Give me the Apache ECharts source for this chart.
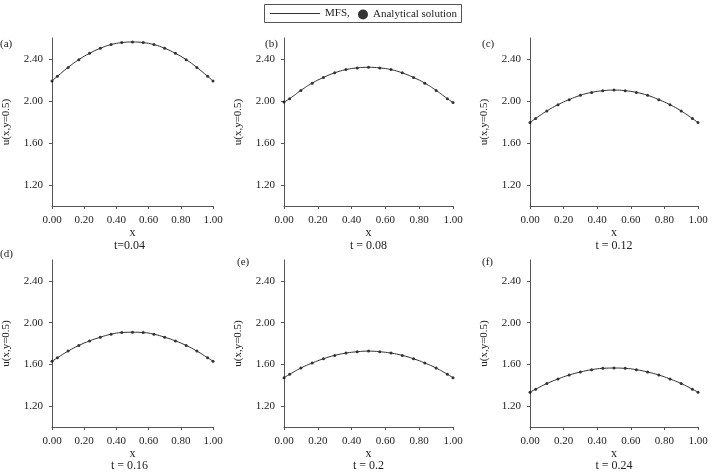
<!DOCTYPE html>
<html>
<head>
<meta charset="utf-8">
<script src="https://cdn.jsdelivr.net/npm/echarts@6/dist/echarts.min.js"></script>
<style>
  html, body { margin: 0; padding: 0; background: #fff; }
  #chart { width: 715px; height: 473px; }
</style>
</head>
<body>
<div id="chart"></div>
<script>
// x 坐标（节点）
const xs = [0, 0.0333, 0.1, 0.1667, 0.2333, 0.3, 0.3667, 0.4333, 0.5, 0.5667, 0.6333, 0.7, 0.7667, 0.8333, 0.9, 0.9667, 1]

// 各时刻 u(x, y=0.5)
const uA = [2.19, 2.235, 2.32, 2.394, 2.454, 2.502, 2.537, 2.556, 2.562, 2.556, 2.537, 2.502, 2.454, 2.394, 2.32, 2.235, 2.19]
const uB = [1.99, 2.022, 2.101, 2.17, 2.224, 2.268, 2.299, 2.315, 2.321, 2.315, 2.299, 2.268, 2.224, 2.17, 2.101, 2.022, 1.985]
const uC = [1.795, 1.833, 1.905, 1.965, 2.013, 2.054, 2.082, 2.098, 2.104, 2.098, 2.082, 2.054, 2.013, 1.965, 1.905, 1.833, 1.795]
const uD = [1.629, 1.663, 1.727, 1.781, 1.825, 1.86, 1.889, 1.905, 1.908, 1.905, 1.889, 1.86, 1.825, 1.781, 1.727, 1.663, 1.629]
const uE = [1.473, 1.505, 1.565, 1.613, 1.654, 1.686, 1.708, 1.721, 1.727, 1.721, 1.708, 1.686, 1.654, 1.613, 1.565, 1.505, 1.473]
const uF = [1.333, 1.362, 1.416, 1.46, 1.498, 1.527, 1.549, 1.562, 1.565, 1.562, 1.549, 1.527, 1.498, 1.46, 1.416, 1.362, 1.333]

const panelData = [uA, uB, uC, uD, uE, uF]
const panelTags = ['(a)', '(b)', '(c)', '(d)', '(e)', '(f)']
const timeLabels = ['t=0.04', 't = 0.08', 't = 0.12', 't = 0.16', 't = 0.2', 't = 0.24']
const yTicks = [1.2, 1.6, 2.0, 2.4]

const font = 'Liberation Serif'
const ink = '#222'

// 面板位置
const cols = [{ left: 46, width: 167 }, { left: 284, width: 169 }, { left: 530, width: 168 }]
const rows = [{ top: 38, height: 168 }, { top: 260, height: 167 }]
const tagPos = [[0, 39], [265, 39], [482, 39], [0, 249], [237, 257], [482, 257]]

const grid = [], xAxis = [], yAxis = [], series = [], title = []

panelData.forEach((vals, i) => {
  const c = cols[i % 3], r = rows[Math.floor(i / 3)]
  grid.push({ left: c.left, top: r.top, width: c.width, height: r.height })

  xAxis.push({
    gridIndex: i,
    type: 'value',
    min: 0,
    max: 1,
    interval: 0.2,
    name: 'x',
    nameLocation: 'middle',
    nameGap: i < 3 ? 21 : 19,
    nameTextStyle: { fontFamily: font, fontSize: 12, color: ink },
    axisLine: { lineStyle: { color: '#555', width: 1 } },
    axisTick: { show: true, length: 3, lineStyle: { color: '#555' } },
    axisLabel: {
      fontFamily: font, fontSize: 11, color: ink, margin: 9,
      formatter: v => v.toFixed(2)
    },
    splitLine: { show: false }
  })

  yAxis.push({
    gridIndex: i,
    type: 'value',
    min: 1.0,
    max: 2.6,
    name: 'u(x,y=0.5)',
    nameLocation: 'middle',
    nameGap: 40,
    nameRotate: 90,
    nameTextStyle: { fontFamily: font, fontSize: 11, color: ink },
    axisLine: { show: true, lineStyle: { color: '#555', width: 1 } },
    axisTick: { show: true, length: 3, customValues: yTicks, lineStyle: { color: '#555' } },
    axisLabel: {
      fontFamily: font, fontSize: 11, color: ink, margin: 9,
      customValues: yTicks,
      formatter: v => v.toFixed(2)
    },
    splitLine: { show: false }
  })

  const pts = xs.map((x, k) => [x, vals[k]])
  series.push({
    name: 'MFS,',
    type: 'line',
    xAxisIndex: i,
    yAxisIndex: i,
    smooth: true,
    showSymbol: false,
    symbol: 'none',
    lineStyle: { color: '#333', width: 1 },
    data: pts
  })
  series.push({
    name: 'Analytical solution',
    type: 'scatter',
    xAxisIndex: i,
    yAxisIndex: i,
    symbol: 'circle',
    symbolSize: 3,
    itemStyle: { color: '#000' },
    data: pts
  })

  title.push({
    text: panelTags[i],
    left: tagPos[i][0],
    top: tagPos[i][1],
    padding: 0,
    textStyle: { fontFamily: font, fontSize: 11, fontWeight: 'normal', color: ink }
  })
  title.push({
    text: timeLabels[i],
    left: c.left + c.width / 2,
    top: r.top + r.height + (i < 3 ? 34 : 33),
    textAlign: 'center',
    padding: 0,
    textStyle: { fontFamily: font, fontSize: 12, fontWeight: 'normal', color: ink }
  })
})

const chart = echarts.init(document.getElementById('chart'))
chart.setOption({
  animation: false,
  backgroundColor: '#fff',
  title: title,
  legend: [
    {
      left: 270, top: 8, padding: 0,
      itemWidth: 50, itemHeight: 1, itemGap: 0,
      data: [{ name: 'MFS,', icon: 'rect', itemStyle: { color: '#333' } }],
      textStyle: { fontFamily: font, fontSize: 11, color: ink }
    },
    {
      left: 358, top: 9, padding: 0,
      itemWidth: 10, itemHeight: 10,
      data: [{ name: 'Analytical solution', icon: 'circle', itemStyle: { color: '#000' } }],
      textStyle: { fontFamily: font, fontSize: 11, color: ink }
    }
  ],
  graphic: [{
    type: 'rect',
    shape: { x: 264.5, y: 4.5, width: 197, height: 18 },
    style: { fill: 'none', stroke: '#555', lineWidth: 1 }
  }],
  grid: grid,
  xAxis: xAxis,
  yAxis: yAxis,
  series: series
})
</script>
</body>
</html>
